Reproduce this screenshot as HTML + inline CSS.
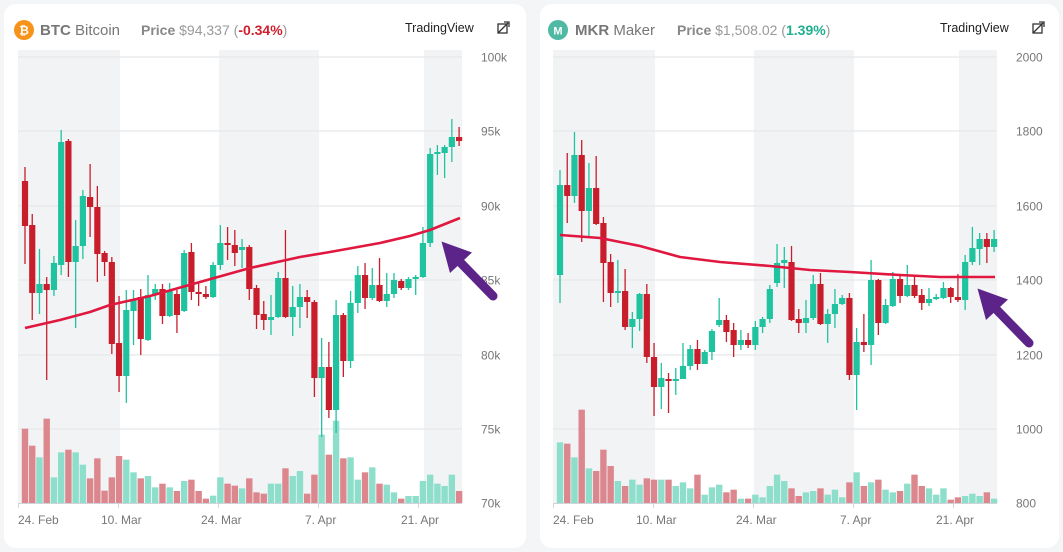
<!DOCTYPE html>
<html><head><meta charset="utf-8">
<style>
html,body{margin:0;padding:0;background:#f4f5f7;width:1063px;height:552px;overflow:hidden;font-family:"Liberation Sans",sans-serif;}
.card{position:absolute;top:4px;width:522px;height:544px;background:#fff;border-radius:12px;}
svg{position:absolute;left:0;top:0;}
</style></head><body>
<div class="card" style="left:4px"></div>
<div class="card" style="left:540px;width:519px"></div>
<svg id="s" width="1063" height="552" xmlns="http://www.w3.org/2000/svg" font-family="Liberation Sans, sans-serif">
<!-- headers -->
<circle cx="24" cy="30" r="10" fill="#f7931a"/>
<text x="24" y="34.5" font-size="12" font-weight="bold" fill="#fff" text-anchor="middle">₿</text>
<text x="40" y="35" font-size="15" fill="#777"><tspan font-weight="bold">BTC</tspan> Bitcoin</text>
<text x="141" y="35" font-size="14" fill="#999"><tspan font-weight="bold" fill="#888">Price</tspan> $94,337 (<tspan fill="#d0202e" font-weight="bold">-0.34%</tspan>)</text>
<text x="405" y="32" font-size="12.5" fill="#222">TradingView</text>
<g stroke="#333" stroke-width="1.3" fill="none"><rect x="498" y="24" width="9" height="9"/><path d="M498 33 L508 23 M504 22 H509 V27"/></g>
<circle cx="558" cy="30" r="10" fill="#4fb9a3"/>
<text x="558" y="34.5" font-size="11" font-weight="bold" fill="#fff" text-anchor="middle">M</text>
<text x="575" y="35" font-size="15" fill="#777"><tspan font-weight="bold">MKR</tspan> Maker</text>
<text x="677" y="35" font-size="14" fill="#999"><tspan font-weight="bold" fill="#888">Price</tspan> $1,508.02 (<tspan fill="#1fae8f" font-weight="bold">1.39%</tspan>)</text>
<text x="940" y="32" font-size="12.5" fill="#222">TradingView</text>
<g stroke="#333" stroke-width="1.3" fill="none"><rect x="1033" y="24" width="9" height="9"/><path d="M1033 33 L1043 23 M1039 22 H1044 V27"/></g>
<g id="c1"></g><g id="c2"></g>
</svg>
<script>
var NS="http://www.w3.org/2000/svg";
function el(p,t,a){var e=document.createElementNS(NS,t);for(var k in a)e.setAttribute(k,a[k]);p.appendChild(e);return e;}
var btc=[[181,226,167,264,'r'],[225,293,214,320,'r'],[284,293,249,314,'g'],[284,290,277,380,'r'],[263,290,256,296,'g'],[142,265,130,275,'g'],[141,262,139,277,'r'],[246,262,220,328,'g'],[196,246,190,259,'g'],[197,207,164,237,'r'],[207,254,186,282,'r'],[253,262,251,276,'r'],[262,344,257,354,'r'],[343,376,296,392,'r'],[310,376,290,403,'g'],[300,311,290,345,'g'],[297,339,289,355,'r'],[295,340,275,341,'g'],[289,295,284,300,'g'],[289,316,284,324,'r'],[290,316,283,317,'g'],[294,315,290,333,'r'],[253,311,250,312,'g'],[252,292,243,300,'r'],[292,294,282,306,'r'],[294,297,286,299,'r'],[265,297,262,298,'g'],[243,265,225,270,'g'],[243,245,227,260,'r'],[245,253,230,266,'r'],[247,250,239,268,'g'],[247,289,245,300,'r'],[288,315,285,329,'r'],[314,320,301,330,'r'],[317,320,295,335,'g'],[278,317,272,318,'g'],[278,317,230,318,'r'],[307,317,286,336,'g'],[297,307,284,328,'g'],[297,302,290,318,'r'],[302,378,300,397,'r'],[367,378,338,437,'g'],[367,410,342,418,'r'],[315,410,300,433,'g'],[315,361,313,377,'r'],[303,361,291,368,'g'],[275,303,266,313,'g'],[275,298,263,309,'r'],[285,298,268,300,'g'],[285,301,258,302,'r'],[294,301,273,307,'g'],[280,294,273,298,'g'],[281,288,279,290,'r'],[279,288,277,290,'g'],[277,279,275,295,'g'],[243,277,227,278,'g'],[154,243,148,247,'g'],[152,154,145,175,'g'],[147,153,145,178,'g'],[137,147,119,162,'g'],[137,141,127,146,'r']];
var btcV=[42,93,128,12,188,113,105,113,150,191,131,228,188,124,135,173,191,184,218,207,218,229,199,195,229,252,243,188,207,213,221,191,233,237,207,207,161,184,169,237,180,60,120,18,131,128,195,173,158,207,210,233,252,244,244,199,180,207,214,180,229];
var mkr=[[185,275,170,303,'g'],[185,196,153,223,'r'],[155,196,132,203,'g'],[155,211,140,242,'r'],[188,211,163,237,'g'],[188,224,156,225,'r'],[223,263,217,302,'r'],[262,293,254,307,'r'],[291,293,260,303,'g'],[291,327,269,330,'r'],[319,327,312,348,'g'],[294,319,293,331,'g'],[294,357,284,363,'r'],[357,387,343,416,'r'],[378,387,363,409,'g'],[379,381,373,413,'r'],[379,381,368,395,'g'],[366,379,343,379,'g'],[349,366,345,370,'g'],[349,364,340,370,'r'],[352,364,350,360,'g'],[331,352,329,360,'g'],[320,325,298,327,'g'],[320,332,315,342,'r'],[330,345,323,357,'r'],[340,345,330,350,'g'],[340,345,333,348,'r'],[327,345,321,350,'g'],[319,327,317,333,'g'],[289,319,285,323,'g'],[263,283,244,287,'g'],[260,263,247,288,'g'],[262,320,246,321,'r'],[319,323,309,333,'r'],[318,323,300,333,'g'],[284,318,275,320,'g'],[284,324,273,325,'r'],[314,324,309,343,'g'],[304,314,289,328,'g'],[298,304,295,305,'g'],[298,375,293,380,'r'],[342,375,328,410,'g'],[342,345,314,352,'r'],[280,345,260,365,'g'],[280,323,279,335,'r'],[305,323,299,324,'g'],[279,306,272,307,'g'],[279,296,275,303,'r'],[285,296,265,297,'g'],[285,296,276,298,'r'],[295,303,289,310,'r'],[299,303,288,306,'g'],[297,299,294,300,'g'],[288,298,282,299,'g'],[288,297,287,303,'r'],[297,300,274,302,'r'],[262,300,255,310,'g'],[248,262,227,265,'g'],[239,249,233,265,'g'],[239,247,233,263,'r'],[239,247,230,252,'g']];
var mkrV=[83,87,128,-15,161,169,105,154,199,214,195,210,191,195,195,195,214,203,221,180,240,218,210,233,225,252,252,240,248,214,180,199,221,244,233,229,221,240,225,248,203,173,214,203,195,225,233,229,207,180,214,221,240,221,255,248,244,237,244,233,252];
function chart(g,ox,x0,data,vol,labels,ma,arrowOff){
  // stripes
  [[18,120],[219,319],[424,462]].forEach(function(s){el(g,'rect',{x:ox+s[0],y:50,width:s[1]-s[0],height:453,fill:'#f2f3f5'});});
  [57,131,206,280,355,429].forEach(function(y,i){
    el(g,'line',{x1:ox+18,x2:ox+462,y1:y,y2:y,stroke:'#e5e7eb','stroke-width':1.2});
    el(g,'text',{x:ox+481,y:y+4.5,'font-size':12,fill:'#777'}).textContent=labels[i];
  });
  el(g,'text',{x:ox+481,y:507.5,'font-size':12,fill:'#777'}).textContent=labels[6];
  // volume
  vol.forEach(function(v,i){var x=x0+i*7.235;var h=(265-v)/3;var c=data[i][4]=='r'?'#dc878d':'#8ddfcb';
    el(g,'rect',{x:x-3.2,y:503-h,width:6.4,height:h,fill:c});});
  // axis
  el(g,'line',{x1:ox+18,x2:ox+462,y1:503.5,y2:503.5,stroke:'#cfd3da','stroke-width':1});
  var xl=[[18,'24. Feb'],[118,'10. Mar'],[218,'24. Mar'],[318,'7. Apr'],[418,'21. Apr']];
  xl.forEach(function(a){el(g,'line',{x1:ox+a[0]+.5,x2:ox+a[0]+.5,y1:503,y2:508,stroke:'#cfd3da'});
    var t=el(g,'text',{x:ox+a[0]+(a[1]=='7. Apr'?-13:(a[1]=='24. Feb'?0:-17)),y:524,'font-size':12,fill:'#777'});t.textContent=a[1];});
  // candles
  data.forEach(function(d,i){var x=x0+i*7.235;var c=d[4]=='r'?'#c81e2c':'#20c39f';
    el(g,'line',{x1:x,x2:x,y1:d[2],y2:d[3],stroke:c,'stroke-width':1.3});
    el(g,'rect',{x:x-3.1,y:d[0],width:6.2,height:Math.max(2,d[1]-d[0]),fill:c});});
  el(g,'polyline',{points:ma,fill:'none',stroke:'#e0173f','stroke-width':2.6,'stroke-linejoin':'round'});
  var ax=arrowOff[0],ay=arrowOff[1];
  el(g,'line',{x1:ax+458,y1:ay+260,x2:ax+493,y2:ay+296,stroke:'#5c2488','stroke-width':9,'stroke-linecap':'round'});
  el(g,'polygon',{points:(ax+441.5)+','+(ay+241.5)+' '+(ax+472)+','+(ay+252.5)+' '+(ax+450)+','+(ay+273),fill:'#5c2488'});
}
chart(document.getElementById('c1'),0,25,btc,btcV,['100k','95k','90k','85k','80k','75k','70k'],
 '25,328 60,320 90,312 110,305 150,296 200,282 250,268 300,257 330,252 380,243 410,236 430,230 460,218',[0,0]);
chart(document.getElementById('c2'),535,560,mkr,mkrV,['2000','1800','1600','1400','1200','1000','800'],
 '560,235 600,238 640,246 680,257 720,262 770,266 810,270 850,272 900,275 940,277 965,277 995,277',[536,47]);
</script>
</body></html>
